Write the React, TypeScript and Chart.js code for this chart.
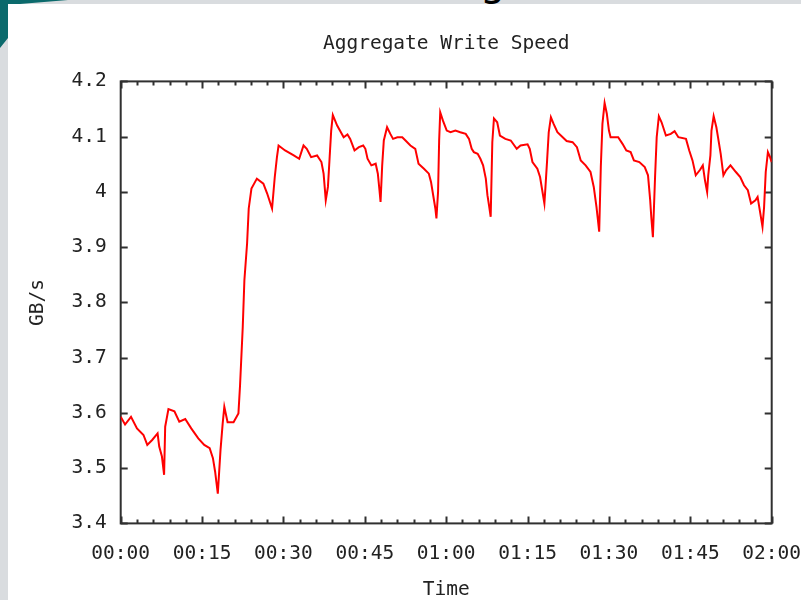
import React, { useEffect, useRef } from "react";
import { Chart, registerables } from "chart.js";

Chart.register(...registerables);

// ---- data (minutes since 00:00, aggregate write speed in GB/s) ----
const minutes = [
  0.0, 0.8, 1.9, 3.0, 4.2, 4.9, 5.8, 6.8, 7.1, 7.6, 8.0, 8.2, 8.8, 9.9, 10.8, 11.9, 13.0, 14.3, 15.4, 16.4,
  17.0, 17.4, 17.9, 18.4, 18.8, 19.1, 19.7, 20.8, 21.7, 22.0, 22.5, 22.8, 23.3, 23.6, 24.1, 25.1, 26.3, 27.0, 27.9, 28.4,
  28.8, 29.1, 30.3, 31.9, 32.9, 33.7, 34.3, 35.1, 36.2, 37.0, 37.4, 37.8, 38.2, 38.5, 38.8, 39.1, 39.9, 41.1, 41.8, 42.3,
  43.1, 43.9, 44.7, 45.1, 45.5, 46.2, 47.0, 47.4, 47.7, 47.9, 48.2, 48.5, 49.1, 49.7, 50.2, 51.0, 51.9, 52.5, 53.4, 54.3,
  54.9, 55.9, 56.8, 57.2, 57.6, 58.0, 58.2, 58.5, 58.7, 58.9, 59.4, 60.1, 60.8, 61.7, 62.6, 63.6, 64.2, 64.7, 65.1, 65.8,
  66.3, 66.8, 67.3, 67.6, 67.9, 68.2, 68.5, 68.8, 69.4, 69.9, 70.9, 71.9, 73.0, 73.7, 75.0, 75.4, 75.9, 76.8, 77.3, 77.7,
  78.1, 78.3, 78.6, 78.9, 79.3, 79.8, 80.5, 82.2, 83.3, 84.1, 84.8, 85.7, 86.6, 87.2, 87.7, 87.9, 88.2, 88.5, 88.8, 89.2,
  89.6, 90.0, 90.3, 91.7, 92.5, 93.2, 94.0, 94.6, 95.6, 96.6, 97.2, 97.6, 97.8, 98.1, 98.5, 98.8, 99.2, 99.7, 100.5, 101.4,
  102.1, 102.8, 104.2, 104.8, 105.4, 106.0, 106.8, 107.3, 107.7, 108.1, 108.3, 108.7, 108.9, 109.3, 109.8, 110.1, 110.6, 111.1, 111.6, 112.4,
  113.4, 114.2, 114.9, 115.6, 116.2, 117.0, 117.4, 117.9, 118.3, 118.6, 118.9, 119.3, 119.7, 120.0,
];

const gbps = [
  3.593, 3.579, 3.593, 3.572, 3.56, 3.542, 3.551, 3.563, 3.539, 3.521, 3.488, 3.575, 3.607, 3.603, 3.584, 3.589, 3.572, 3.554, 3.542, 3.536,
  3.518, 3.494, 3.454, 3.533, 3.581, 3.611, 3.583, 3.583, 3.599, 3.65, 3.756, 3.84, 3.907, 3.97, 4.006, 4.024, 4.015, 3.997, 3.97, 4.027,
  4.063, 4.084, 4.075, 4.066, 4.06, 4.084, 4.078, 4.063, 4.066, 4.054, 4.033, 3.985, 4.009, 4.06, 4.111, 4.139, 4.12, 4.099, 4.104, 4.096,
  4.075, 4.081, 4.084, 4.078, 4.06, 4.048, 4.051, 4.033, 4.003, 3.982, 4.048, 4.093, 4.117, 4.105, 4.096, 4.099, 4.099, 4.093, 4.084, 4.078,
  4.051, 4.042, 4.033, 4.018, 3.994, 3.97, 3.952, 4.0, 4.093, 4.144, 4.129, 4.111, 4.108, 4.111, 4.108, 4.105, 4.096, 4.078, 4.072, 4.069,
  4.06, 4.048, 4.024, 3.994, 3.975, 3.955, 4.09, 4.133, 4.126, 4.102, 4.096, 4.093, 4.078, 4.084, 4.086, 4.078, 4.054, 4.042, 4.027, 4.003,
  3.979, 4.009, 4.057, 4.108, 4.135, 4.123, 4.108, 4.092, 4.09, 4.081, 4.057, 4.048, 4.036, 4.009, 3.973, 3.955, 3.928, 4.045, 4.123, 4.161,
  4.142, 4.111, 4.099, 4.099, 4.087, 4.075, 4.072, 4.057, 4.054, 4.045, 4.03, 3.985, 3.955, 3.918, 4.027, 4.099, 4.137, 4.126, 4.102, 4.105,
  4.11, 4.099, 4.096, 4.075, 4.057, 4.03, 4.04, 4.048, 4.021, 4.0, 4.03, 4.066, 4.111, 4.137, 4.117, 4.099, 4.069, 4.03, 4.039, 4.048,
  4.036, 4.027, 4.012, 4.003, 3.979, 3.985, 3.991, 3.961, 3.937, 3.973, 4.036, 4.072, 4.063, 4.054,
];

const xTickLabels = ["00:00", "00:15", "00:30", "00:45", "01:00", "01:15", "01:30", "01:45", "02:00"];
const xMajorStep = 15;
const xMinorStep = 3;
const yTickLabels = ["3.4", "3.5", "3.6", "3.7", "3.8", "3.9", "4", "4.1", "4.2"];
const yMin = 3.4;
const yMax = 4.2;
const yStep = 0.1;

const FONT = "'DejaVu Sans Mono', monospace";
const TEXT = "#222";

const framePlugin = {
  id: "gnuplotFrame",
  beforeDatasetsDraw(chart: any) {
    const { ctx, chartArea: a, scales } = chart;
    const x = scales.x;
    const y = scales.y;
    ctx.save();
    ctx.strokeStyle = "#303030";
    ctx.lineWidth = 2;
    ctx.strokeRect(a.left, a.top, a.right - a.left, a.bottom - a.top);
    ctx.beginPath();
    const xMax = xMajorStep * (xTickLabels.length - 1);
    for (let m = 0; m <= xMax; m += xMinorStep) {
      const px = Math.round(x.getPixelForValue(m)) + 0.5;
      const len = m % xMajorStep === 0 ? 7 : 4;
      ctx.moveTo(px, a.bottom);
      ctx.lineTo(px, a.bottom - len);
      ctx.moveTo(px, a.top);
      ctx.lineTo(px, a.top + len);
    }
    for (let i = 0; i < yTickLabels.length; i++) {
      const py = Math.round(y.getPixelForValue(yMin + i * yStep)) + 0.5;
      ctx.moveTo(a.left, py);
      ctx.lineTo(a.left + 7, py);
      ctx.moveTo(a.right, py);
      ctx.lineTo(a.right - 7, py);
    }
    ctx.stroke();
    ctx.restore();
  },
};

export default function App() {
  const canvasRef = useRef<HTMLCanvasElement | null>(null);

  useEffect(() => {
    const canvas = canvasRef.current;
    if (!canvas) return;
    const chart = new Chart(canvas, {
      type: "line",
      data: {
        datasets: [
          {
            label: "Aggregate Write Speed",
            data: minutes.map((m, i) => ({ x: m, y: gbps[i] })),
            borderColor: "#ff0000",
            borderWidth: 2,
            pointRadius: 0,
            tension: 0,
            fill: false,
          },
        ],
      },
      options: {
        animation: false,
        responsive: false,
        devicePixelRatio: 1,
        layout: { padding: { left: 0, right: 29.3, top: 0, bottom: 0 } },
        plugins: {
          legend: { display: false },
          tooltip: { enabled: false },
          title: {
            display: true,
            fullSize: false,
            text: "Aggregate Write Speed",
            color: TEXT,
            font: { family: FONT, size: 19.5, weight: "normal", lineHeight: 1.2 },
            padding: { top: 32, bottom: 26 },
          },
        },
        scales: {
          x: {
            type: "linear",
            min: 0,
            max: xMajorStep * (xTickLabels.length - 1),
            grid: { display: false, drawTicks: false },
            border: { display: false },
            ticks: {
              stepSize: xMajorStep,
              autoSkip: false,
              maxRotation: 0,
              padding: 19,
              color: TEXT,
              font: { family: FONT, size: 19.5 },
              callback: (v: any) => xTickLabels[Math.round(Number(v) / xMajorStep)] ?? "",
            },
            title: {
              display: true,
              text: "Time",
              color: TEXT,
              font: { family: FONT, size: 19.5, lineHeight: 1.0 },
              padding: { top: 0, bottom: 0 },
            },
            afterFit: (scale: any) => {
              scale.height = 76.6;
              scale.paddingLeft = 0;
              scale.paddingRight = 0;
            },
          },
          y: {
            type: "linear",
            min: yMin,
            max: yMax,
            grid: { display: false, drawTicks: false },
            border: { display: false },
            ticks: {
              stepSize: yStep,
              padding: 14,
              color: TEXT,
              font: { family: FONT, size: 19.5 },
              callback: (_v: any, i: number) => yTickLabels[i],
            },
            title: {
              display: true,
              text: "GB/s",
              color: TEXT,
              font: { family: FONT, size: 19.5, lineHeight: 1.2 },
              padding: { top: 26, bottom: 0 },
            },
            afterFit: (scale: any) => {
              scale.width = 120.7;
              scale.paddingTop = 0;
              scale.paddingBottom = 0;
            },
          },
        },
      },
      plugins: [framePlugin],
    });
    return () => chart.destroy();
  }, []);

  return (
    <div style={{ position: "fixed", inset: 0, background: "#d9dcdf", overflow: "hidden" }}>
      <div
        style={{
          position: "absolute",
          left: 0,
          top: 0,
          width: 70,
          height: 52,
          background: "#0b6a6c",
          clipPath: "polygon(0 0, 68px 0, 8px 5px, 8px 38px, 0 48px)",
        }}
      />
      <div style={{ position: "absolute", left: 0, top: 0, width: 801, height: 4, overflow: "hidden" }}>
        <span
          style={{
            position: "absolute",
            left: 480,
            top: -39,
            fontFamily: "'DejaVu Sans', sans-serif",
            fontSize: 40,
            lineHeight: "40px",
            color: "#000",
          }}
        >
          g
        </span>
      </div>
      <div style={{ position: "absolute", left: 8, top: 4, right: 0, bottom: 0, background: "#ffffff" }} />
      <canvas
        ref={canvasRef}
        width={801}
        height={600}
        style={{ position: "absolute", left: 0, top: 0, width: 801, height: 600 }}
      />
    </div>
  );
}
